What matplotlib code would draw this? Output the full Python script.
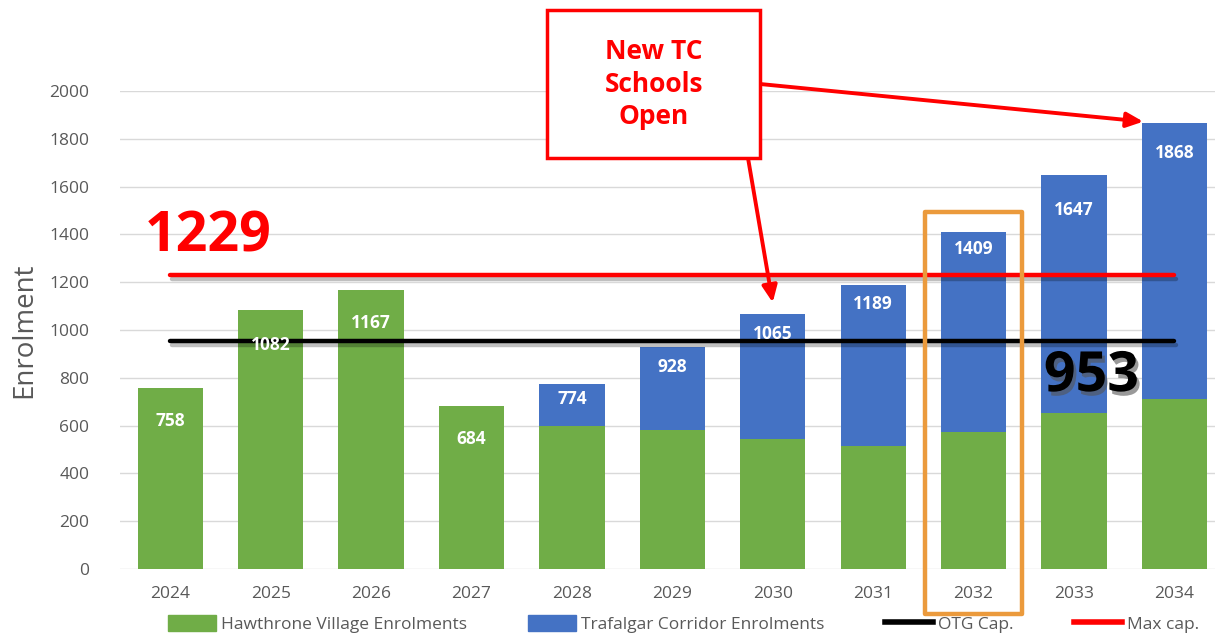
import matplotlib.pyplot as plt
import matplotlib.patheffects as pe
from matplotlib.patches import Rectangle, Patch
from matplotlib.lines import Line2D

plt.rcParams['font.family'] = ['Open Sans', 'DejaVu Sans']

# data
years = ["2024", "2025", "2026", "2027", "2028", "2029", "2030", "2031", "2032", "2033", "2034"]
hawthrone = [758, 1082, 1167, 684, 598, 580, 545, 515, 575, 652, 712]
totals = [758, 1082, 1167, 684, 774, 928, 1065, 1189, 1409, 1647, 1868]
trafalgar = [t - h for t, h in zip(totals, hawthrone)]
otg_cap = 953
max_cap = 1229

# how far below the bar top each total label sits (points)
label_drop = [24, 25, 24, 24, 11, 14, 14, 14, 12, 25, 22]

green = "#70AD47"
blue = "#4472C4"
grey = "#595959"

fig = plt.figure(figsize=(12.17, 6.41), dpi=100)
ax = fig.add_axes([0.0986, 0.1123, 0.8994, 0.7457])

x = list(range(len(years)))
ax.bar(x, hawthrone, width=0.65, color=green, zorder=2)
ax.bar(x, trafalgar, width=0.65, bottom=hawthrone, color=blue, zorder=2)

shadow = [pe.SimpleLineShadow(offset=(1.5, -2.5), alpha=0.25), pe.Normal()]
ax.plot([x[0], x[-1]], [max_cap, max_cap], color="#FF0000", lw=3.2,
        solid_capstyle="round", zorder=3, path_effects=shadow)
ax.plot([x[0], x[-1]], [otg_cap, otg_cap], color="black", lw=3.2,
        solid_capstyle="round", zorder=3, path_effects=shadow)

for xi, t, d in zip(x, totals, label_drop):
    ax.annotate(str(t), (xi, t), xytext=(0, -d), textcoords="offset points",
                ha="center", va="center", color="white", fontsize=12.5,
                fontweight="bold", zorder=4)

ax.set_ylim(0, 2000)
ax.set_xlim(-0.5, 10.4)
ax.set_yticks(range(0, 2001, 200))
ax.set_xticks(x)
ax.set_xticklabels(years)
ax.tick_params(length=0, colors=grey, labelsize=12.5)
ax.tick_params(axis="y", pad=22)
ax.tick_params(axis="x", pad=12)
ax.yaxis.grid(True, color="#D9D9D9", lw=1)
ax.set_axisbelow(True)
for s in ax.spines.values():
    s.set_visible(False)
ax.set_ylabel("Enrolment", fontsize=20, color=grey, labelpad=8)

# big capacity numbers
ax.text(-0.25, 1390, str(max_cap), color="#FF0000", fontsize=40,
        fontweight="bold", ha="left", va="center", zorder=5)
ax.text(8.7, 805, str(otg_cap), color="black", fontsize=40, fontweight="bold",
        ha="left", va="center", zorder=5,
        path_effects=[pe.withSimplePatchShadow(offset=(2, -3), shadow_rgbFace="#555555", alpha=0.6)])

# highlight box around 2032
ax.add_patch(Rectangle((8 - 0.48, -190), 0.96, 1685, fill=False,
                       edgecolor="#EB9A3C", lw=3.2, clip_on=False, zorder=6,
                       joinstyle="round"))

# callout box
W, H = 1217, 641
fig.patches.append(Rectangle((547 / W, 1 - 158 / H), 213 / W, 148 / H,
                             transform=fig.transFigure, facecolor="white",
                             edgecolor="#FF0000", lw=2.5, zorder=7))
fig.text(654 / W, 1 - 84 / H, "New TC\nSchools\nOpen", color="#FF0000",
         fontsize=19, fontweight="bold", ha="center", va="center",
         linespacing=1.25, zorder=8)

arrow = dict(arrowstyle="-|>,head_length=1.0,head_width=0.45",
             color="#FF0000", lw=2.8, shrinkA=0, shrinkB=0)
ax.annotate("", xy=(6, 1115), xycoords="data",
            xytext=(748, H - 158), textcoords="figure pixels",
            arrowprops=arrow, zorder=8)
ax.annotate("", xy=(10 - 0.31, 1872), xycoords="data",
            xytext=(760, H - 84), textcoords="figure pixels",
            arrowprops=arrow, zorder=8)

handles = [Patch(color=green, label="Hawthrone Village Enrolments"),
           Patch(color=blue, label="Trafalgar Corridor Enrolments"),
           Line2D([], [], color="black", lw=4, label="OTG Cap."),
           Line2D([], [], color="#FF0000", lw=4, label="Max cap.")]
leg = fig.legend(handles=handles, loc="lower center", ncol=4,
                 bbox_to_anchor=(0.562, -0.012), frameon=False, fontsize=12.5,
                 handlelength=2.75, handleheight=1.0, columnspacing=3.5,
                 handletextpad=0.3)
for t in leg.get_texts():
    t.set_color(grey)

fig.savefig("out.png", dpi=100)
